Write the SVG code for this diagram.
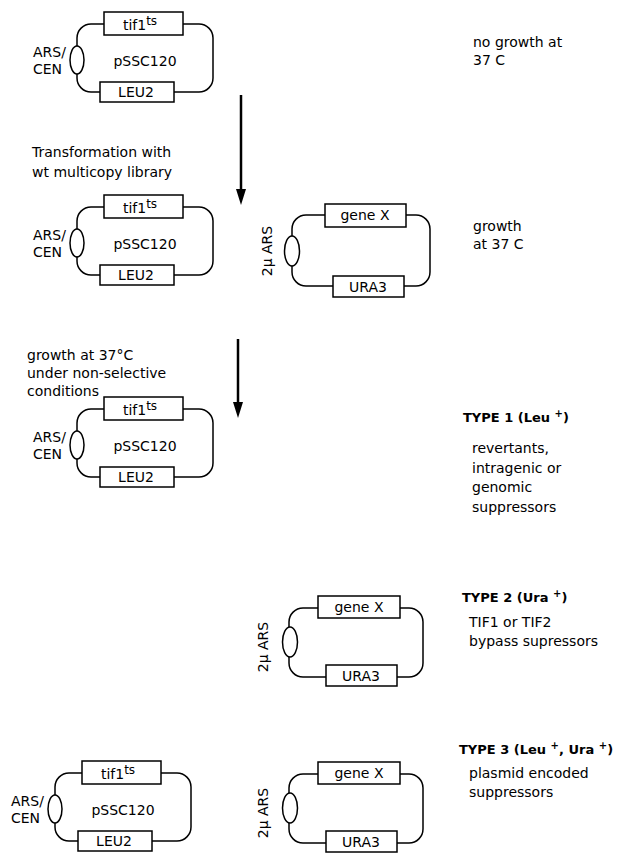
<svg xmlns="http://www.w3.org/2000/svg" width="624" height="854" viewBox="0 0 624 854">
  <style>
    text { font-family: "DejaVu Sans", "Liberation Sans", sans-serif; font-size: 14px; fill: #000; }
    .bold { font-weight: bold; font-size: 13px; }
    .mid { text-anchor: middle; }
    .line { fill: none; stroke: #000; stroke-width: 1.5; }
    .box { fill: #fff; stroke: #000; stroke-width: 1.5; }
    .ori { fill: #fff; stroke: #000; stroke-width: 1.5; }
    .shaft { stroke: #000; stroke-width: 2.5; }
  </style>
  <defs>
    <marker id="head" viewBox="0 0 16 10" refX="0" refY="5" markerWidth="16" markerHeight="10" markerUnits="userSpaceOnUse" orient="auto">
      <path d="M0,0 L16,5 L0,10 Z" fill="#000"/>
    </marker>
  </defs>

  <!-- pSSC120 centromeric plasmid, before transformation -->
  <g id="pSSC120-start">
    <rect class="line" x="77" y="24" width="136" height="68" rx="14"/>
    <rect class="box" x="104" y="12" width="79" height="23"/>
    <rect class="box" x="100" y="82" width="74" height="20"/>
    <ellipse class="ori" cx="77" cy="60" rx="7" ry="14"/>
    <text x="33" y="57">ARS/</text>
    <text x="33" y="74">CEN</text>
    <text class="mid" x="145" y="66">pSSC120</text>
    <text class="mid" x="140" y="30">tif1<tspan dy="-5" font-size="12">ts</tspan></text>
    <text class="mid" x="136" y="97">LEU2</text>
  </g>
  <g id="note-start">
    <text x="473" y="47">no growth at</text>
    <text x="473" y="65">37 C</text>
  </g>

  <!-- transformed cells carrying both plasmids -->
  <g id="pSSC120-transformed" transform="translate(0,183)">
    <rect class="line" x="77" y="24" width="136" height="68" rx="14"/>
    <rect class="box" x="104" y="12" width="79" height="23"/>
    <rect class="box" x="100" y="82" width="74" height="20"/>
    <ellipse class="ori" cx="77" cy="60" rx="7" ry="14"/>
    <text x="33" y="57">ARS/</text>
    <text x="33" y="74">CEN</text>
    <text class="mid" x="145" y="66">pSSC120</text>
    <text class="mid" x="140" y="30">tif1<tspan dy="-5" font-size="12">ts</tspan></text>
    <text class="mid" x="136" y="97">LEU2</text>
  </g>
  <g id="library-transformed">
    <rect class="line" x="292" y="215" width="138" height="71" rx="14"/>
    <rect class="box" x="325" y="204" width="81" height="23"/>
    <rect class="box" x="333" y="276" width="71" height="21"/>
    <ellipse class="ori" cx="292" cy="251" rx="7.5" ry="15"/>
    <text class="mid" transform="translate(272,251) rotate(-90)">2μ ARS</text>
    <text class="mid" x="365" y="220">gene X</text>
    <text class="mid" x="368" y="292">URA3</text>
  </g>
  <g id="note-transformed">
    <text x="473" y="231">growth</text>
    <text x="473" y="249">at 37 C</text>
  </g>

  <!-- selection steps -->
  <g id="step-transformation">
    <text x="32" y="157">Transformation with</text>
    <text x="32" y="177">wt multicopy library</text>
  </g>
  <g id="step-growth">
    <text x="27" y="360">growth at 37°C</text>
    <text x="27" y="378">under non-selective</text>
    <text x="27" y="396">conditions</text>
  </g>

  <g id="connectors">
    <line class="shaft" x1="241" y1="95" x2="241" y2="189" marker-end="url(#head)"/>
    <line class="shaft" x1="238" y1="339" x2="238" y2="402" marker-end="url(#head)"/>
  </g>

  <!-- type 1 -->
  <g id="type1-plasmid" transform="translate(0,385)">
    <rect class="line" x="77" y="24" width="136" height="68" rx="14"/>
    <rect class="box" x="104" y="12" width="79" height="23"/>
    <rect class="box" x="100" y="82" width="74" height="20"/>
    <ellipse class="ori" cx="77" cy="60" rx="7" ry="14"/>
    <text x="33" y="57">ARS/</text>
    <text x="33" y="74">CEN</text>
    <text class="mid" x="145" y="66">pSSC120</text>
    <text class="mid" x="140" y="30">tif1<tspan dy="-5" font-size="12">ts</tspan></text>
    <text class="mid" x="136" y="97">LEU2</text>
  </g>
  <g id="type1-label">
    <text class="bold" x="463" y="422">TYPE 1 (Leu <tspan dy="-5" font-size="10">+</tspan><tspan dy="5">)</tspan></text>
    <text x="472" y="453">revertants,</text>
    <text x="472" y="473">intragenic or</text>
    <text x="472" y="492">genomic</text>
    <text x="472" y="512">suppressors</text>
  </g>

  <!-- type 2 -->
  <g id="type2-plasmid">
    <rect class="line" x="289" y="608" width="134" height="69" rx="14"/>
    <rect class="box" x="318" y="596" width="82" height="22"/>
    <rect class="box" x="326" y="665" width="71" height="21"/>
    <ellipse class="ori" cx="290" cy="642" rx="7.5" ry="15"/>
    <text class="mid" transform="translate(268,647) rotate(-90)">2μ ARS</text>
    <text class="mid" x="359" y="612">gene X</text>
    <text class="mid" x="361" y="681">URA3</text>
  </g>
  <g id="type2-label">
    <text class="bold" x="462" y="602">TYPE 2 (Ura <tspan dy="-5" font-size="10">+</tspan><tspan dy="5">)</tspan></text>
    <text x="469" y="627">TIF1 or TIF2</text>
    <text x="469" y="646">bypass supressors</text>
  </g>

  <!-- type 3 -->
  <g id="type3-plasmid-cen" transform="translate(-22,749)">
    <rect class="line" x="77" y="24" width="136" height="68" rx="14"/>
    <rect class="box" x="104" y="12" width="79" height="23"/>
    <rect class="box" x="100" y="82" width="74" height="20"/>
    <ellipse class="ori" cx="77" cy="60" rx="7" ry="14"/>
    <text x="33" y="57">ARS/</text>
    <text x="33" y="74">CEN</text>
    <text class="mid" x="145" y="66">pSSC120</text>
    <text class="mid" x="140" y="30">tif1<tspan dy="-5" font-size="12">ts</tspan></text>
    <text class="mid" x="136" y="97">LEU2</text>
  </g>
  <g id="type3-plasmid-2mu" transform="translate(0,166)">
    <rect class="line" x="289" y="608" width="134" height="69" rx="14"/>
    <rect class="box" x="318" y="596" width="82" height="22"/>
    <rect class="box" x="326" y="665" width="71" height="21"/>
    <ellipse class="ori" cx="290" cy="642" rx="7.5" ry="15"/>
    <text class="mid" transform="translate(268,647) rotate(-90)">2μ ARS</text>
    <text class="mid" x="359" y="612">gene X</text>
    <text class="mid" x="361" y="681">URA3</text>
  </g>
  <g id="type3-label">
    <text class="bold" x="459" y="754">TYPE 3 (Leu <tspan dy="-5" font-size="10">+</tspan><tspan dy="5">, Ura </tspan><tspan dy="-5" font-size="10">+</tspan><tspan dy="5">)</tspan></text>
    <text x="469" y="778">plasmid encoded</text>
    <text x="469" y="797">suppressors</text>
  </g>
</svg>
